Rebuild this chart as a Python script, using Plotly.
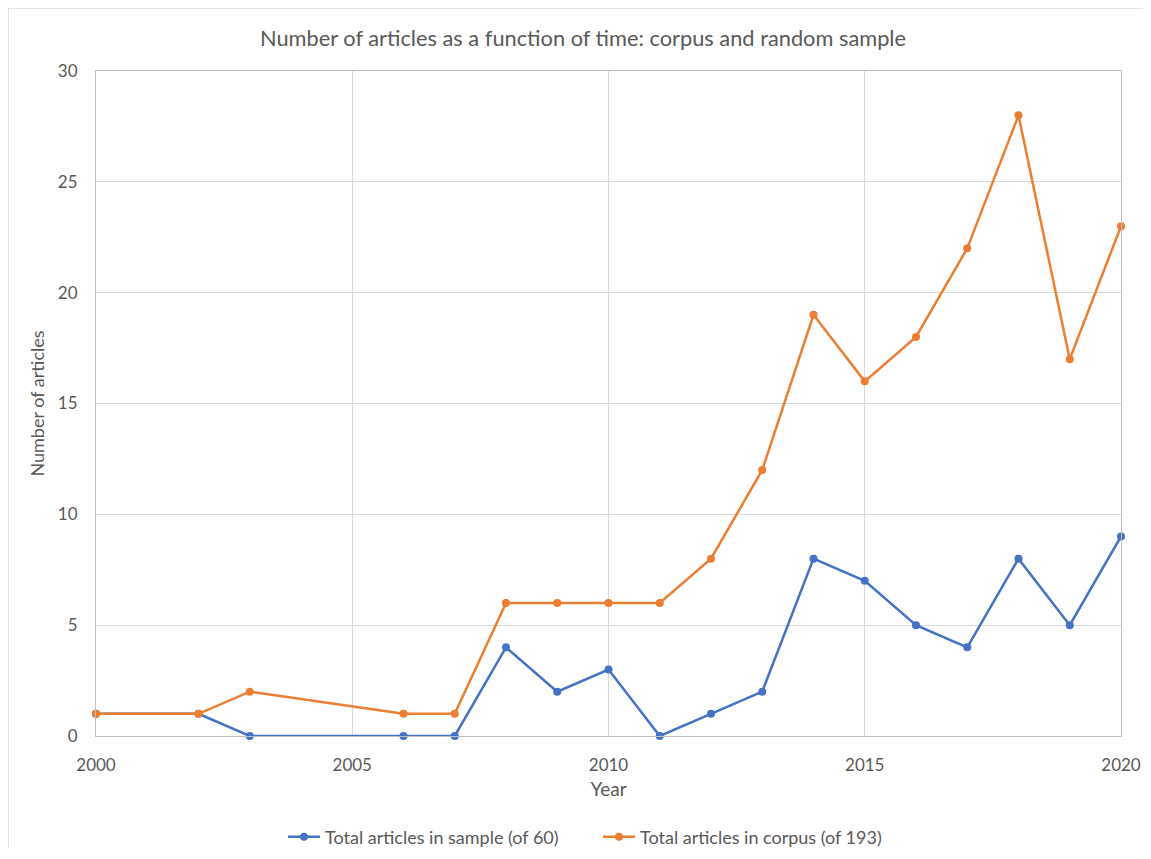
import plotly.graph_objects as go

years_sample = [2000, 2002, 2003, 2006, 2007, 2008, 2009, 2010, 2011, 2012, 2013, 2014, 2015, 2016, 2017, 2018, 2019, 2020]
sample_counts = [1, 1, 0, 0, 0, 4, 2, 3, 0, 1, 2, 8, 7, 5, 4, 8, 5, 9]
years_corpus = [2000, 2002, 2003, 2006, 2007, 2008, 2009, 2010, 2011, 2012, 2013, 2014, 2015, 2016, 2017, 2018, 2019, 2020]
corpus_counts = [1, 1, 2, 1, 1, 6, 6, 6, 6, 8, 12, 19, 16, 18, 22, 28, 17, 23]
x_ticks = [2000, 2005, 2010, 2015, 2020]
y_ticks = [0, 5, 10, 15, 20, 25, 30]

BLUE = "#4472C4"
ORANGE = "#ED7D31"
TXT = "#595959"
FONT = "Lato"

fig = go.Figure()
fig.add_trace(go.Scatter(x=years_sample, y=sample_counts, mode="lines+markers",
                         name="Total articles in sample (of 60)", legend="legend",
                         line=dict(color=BLUE, width=2.5),
                         marker=dict(color=BLUE, size=8), cliponaxis=False))
fig.add_trace(go.Scatter(x=years_corpus, y=corpus_counts, mode="lines+markers",
                         name="Total articles in corpus (of 193)", legend="legend2",
                         line=dict(color=ORANGE, width=2.5),
                         marker=dict(color=ORANGE, size=8), cliponaxis=False))

OFF = 8  # page body margin
W, H = 1135, 840
L, R, T, B = 96 - OFF, W - (1121 - OFF), 71 - OFF, H - (736 - OFF)
pw = W - L - R
ph = H - T - B

def px_x(p):
    return (p - OFF - L) / pw

def px_y(p):
    return 1 - (p - OFF - T) / ph

legend_common = dict(orientation="h", xanchor="left", yanchor="middle",
                     font=dict(size=18, color=TXT), itemwidth=32,
                     bgcolor="rgba(0,0,0,0)", borderwidth=0)

fig.update_layout(
    width=W, height=H,
    margin=dict(l=L, r=R, t=T, b=B, autoexpand=False),
    paper_bgcolor="white", plot_bgcolor="white",
    font=dict(family=FONT, color=TXT, size=14),
    title=dict(text="Number of articles as a function of time: corpus and random sample",
               x=px_x(583), xref="paper", xanchor="center",
               y=1 - (38 - OFF) / H, yref="container", yanchor="middle",
               font=dict(size=21.8, color=TXT, family=FONT)),
    showlegend=True,
    legend=dict(x=px_x(283), y=px_y(837), **legend_common),
    legend2=dict(x=px_x(598), y=px_y(837), **legend_common),
    xaxis=dict(range=[2000, 2020], tickvals=x_ticks, ticktext=[str(v) for v in x_ticks],
               automargin=False,
               showgrid=True, gridcolor="#D9D9D9", gridwidth=1,
               showline=True, linecolor="#BFBFBF", linewidth=1, mirror=True,
               zeroline=False, ticks="", ticklen=0, ticklabelstandoff=14,
               tickfont=dict(size=17, color=TXT),
               title=dict(text="Year", font=dict(size=19, color=TXT), standoff=8)),
    yaxis=dict(range=[0, 30], tickvals=y_ticks, automargin=False,
               showgrid=True, gridcolor="#D9D9D9", gridwidth=1,
               showline=True, linecolor="#BFBFBF", linewidth=1, mirror=True,
               zeroline=False, ticks="", ticklabelstandoff=14,
               tickfont=dict(size=17, color=TXT),
               title=dict(text="Number of articles", font=dict(size=18, color=TXT), standoff=8)),
    shapes=[dict(type="rect", xref="paper", yref="paper",
                 x0=px_x(8), x1=px_x(1170), y0=px_y(8), y1=px_y(880),
                 line=dict(color="#D9D9D9", width=1.5), fillcolor="rgba(0,0,0,0)", layer="below")],
)

fig.write_html("out.html")
